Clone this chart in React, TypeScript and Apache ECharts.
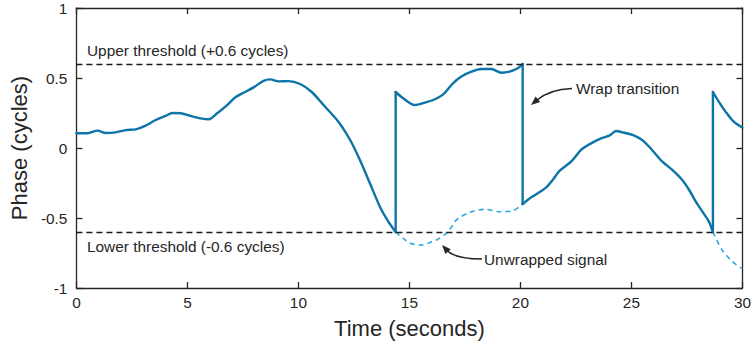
import { useEffect, useRef } from "react";
import * as echarts from "echarts";

// Wrapped phase (solid line)
const wrappedTime = [
  0, 0.5, 0.95, 1.32, 1.77, 2.22, 2.67, 3.12, 3.57, 4.02, 4.32, 4.69, 5.14, 5.59, 5.96,
  6.34, 6.71, 7.16, 7.53, 7.98, 8.43, 8.73, 9.1, 9.55, 10.08, 10.6, 11.13, 11.8, 12.33,
  12.77, 13.22, 13.67, 14.05, 14.38, 14.38, 14.72, 15.24, 15.69, 16.07, 16.52, 16.96,
  17.34, 17.79, 18.24, 18.69, 19.14, 19.51, 19.88, 20.1, 20.1, 20.41, 20.78, 21.16,
  21.45, 21.76, 22.28, 22.73, 23.1, 23.63, 24.0, 24.31, 24.6, 25.05, 25.45, 25.8, 26.32,
  26.84, 27.29, 27.6, 27.9, 28.2, 28.49, 28.67, 28.67, 28.94, 29.24, 29.61, 30,
];
const wrappedPhase = [
  0.105, 0.105, 0.124, 0.107, 0.112, 0.128, 0.133, 0.16, 0.2, 0.229, 0.25, 0.248, 0.229,
  0.212, 0.205, 0.248, 0.295, 0.362, 0.395, 0.433, 0.48, 0.49, 0.476, 0.478, 0.457, 0.4,
  0.307, 0.188, 0.057, -0.086, -0.252, -0.419, -0.526, -0.6, 0.4, 0.355, 0.307, 0.324,
  0.343, 0.383, 0.462, 0.51, 0.545, 0.564, 0.564, 0.538, 0.545, 0.569, 0.6, -0.4, -0.36,
  -0.324, -0.281, -0.229, -0.164, -0.098, -0.014, 0.026, 0.069, 0.088, 0.121, 0.112,
  0.093, 0.06, 0.009, -0.086, -0.157, -0.229, -0.3, -0.383, -0.455, -0.526, -0.6, 0.4,
  0.33, 0.26, 0.188, 0.145,
];

// Unwrapped signal (dashed), two visible stretches
const unwrappedTimeA = [14.38, 14.72, 15.03, 15.55, 16.0, 16.22, 16.74, 17.12, 17.71, 18.39, 19.06, 19.66, 20.1];
const unwrappedPhaseA = [-0.6, -0.645, -0.68, -0.693, -0.67, -0.657, -0.598, -0.514, -0.46, -0.438, -0.455, -0.448, -0.4];
const unwrappedTimeB = [28.67, 29.09, 29.54, 29.95];
const unwrappedPhaseB = [-0.6, -0.73, -0.81, -0.86];

const thresholds = [0.6, -0.6];
const xTicks = { min: 0, max: 30, interval: 5 };
const yTicks = { min: -1, max: 1, interval: 0.5 };

const FONT = "Liberation Sans, Arial, Helvetica, sans-serif";
const INK = "#262626";
const SOLID = "#0c74a6";
const DASHED = "#2aa8e0";

function arrow(x0: number, y0: number, cx: number, cy: number, x1: number, y1: number) {
  const dx = x1 - cx;
  const dy = y1 - cy;
  const len = Math.hypot(dx, dy);
  const ux = dx / len;
  const uy = dy / len;
  const hl = 9;
  const hw = 3.6;
  const bx = x1 - ux * hl;
  const by = y1 - uy * hl;
  const nx = -uy;
  const ny = ux;
  return [
    {
      type: "bezierCurve",
      shape: { x1: x0, y1: y0, cpx1: cx, cpy1: cy, x2: bx + ux * 2, y2: by + uy * 2 },
      style: { stroke: INK, lineWidth: 1.5, fill: "none" },
      silent: true,
    },
    {
      type: "polygon",
      shape: { points: [[x1, y1], [bx + nx * hw, by + ny * hw], [bx - nx * hw, by - ny * hw]] },
      style: { fill: INK },
      silent: true,
    },
  ];
}

function annotation(text: string, x: number, y: number) {
  return {
    type: "text",
    x,
    y,
    silent: true,
    style: {
      text,
      fill: INK,
      font: `15.4px ${FONT}`,
      fontSize: 15.4,
      fontFamily: FONT,
      textAlign: "left",
      textVerticalAlign: "middle",
    },
  };
}

const axisLineStyle = { color: INK, width: 1.3 };

// Split the wrapped trace into smooth stretches and the vertical wrap jumps.
function splitWrapped() {
  const stretches: number[][][] = [];
  const jumps: number[][][] = [];
  let cur: number[][] = [];
  for (let i = 0; i < wrappedTime.length; i++) {
    const p = [wrappedTime[i], wrappedPhase[i]];
    if (i > 0 && wrappedTime[i] === wrappedTime[i - 1]) {
      jumps.push([[wrappedTime[i - 1], wrappedPhase[i - 1]], p]);
      stretches.push(cur);
      cur = [];
    }
    cur.push(p);
  }
  stretches.push(cur);
  return { stretches, jumps };
}

export default function App() {
  const ref = useRef<HTMLDivElement>(null);
  useEffect(() => {
    if (!ref.current) return;
    const chart = echarts.init(ref.current, null, { renderer: "svg" });
    const pairs = (t: number[], v: number[]) => t.map((x, i) => [x, v[i]]);
    const { stretches, jumps } = splitWrapped();
    const solidStyle = { color: SOLID, width: 2.4, join: "round", cap: "round" };
    chart.setOption({
      animation: false,
      backgroundColor: "#ffffff",
      textStyle: { fontFamily: FONT },
      grid: { left: 75, right: 10, top: 8, bottom: 59, containLabel: false },
      xAxis: [
        {
          type: "value",
          ...xTicks,
          position: "bottom",
          axisLine: { show: true, onZero: false, lineStyle: axisLineStyle },
          axisTick: { show: true, inside: true, length: 6, lineStyle: axisLineStyle },
          axisLabel: { color: INK, fontSize: 15.4, margin: 7, fontFamily: FONT },
          splitLine: { show: false },
          name: "Time (seconds)",
          nameLocation: "middle",
          nameGap: 29,
          nameTextStyle: { color: INK, fontSize: 22, fontFamily: FONT, verticalAlign: "top" },
        },
        {
          type: "value",
          ...xTicks,
          position: "top",
          axisLine: { show: true, onZero: false, lineStyle: axisLineStyle },
          axisTick: { show: true, inside: true, length: 6, lineStyle: axisLineStyle },
          axisLabel: { show: false },
          splitLine: { show: false },
        },
      ],
      yAxis: [
        {
          type: "value",
          ...yTicks,
          position: "left",
          axisLine: { show: true, onZero: false, lineStyle: axisLineStyle },
          axisTick: { show: true, inside: true, length: 6, lineStyle: axisLineStyle },
          axisLabel: { color: INK, fontSize: 15.4, margin: 9, fontFamily: FONT },
          splitLine: { show: false },
          name: "Phase (cycles)",
          nameLocation: "middle",
          nameGap: 44,
          nameTextStyle: { color: INK, fontSize: 22, fontFamily: FONT },
        },
        {
          type: "value",
          ...yTicks,
          position: "right",
          axisLine: { show: true, onZero: false, lineStyle: axisLineStyle },
          axisTick: { show: true, inside: true, length: 6, lineStyle: axisLineStyle },
          axisLabel: { show: false },
          splitLine: { show: false },
        },
      ],
      series: [
        {
          type: "line",
          name: "Unwrapped A",
          data: pairs(unwrappedTimeA, unwrappedPhaseA),
          showSymbol: false,
          symbol: "none",
          smooth: 0.3,
          lineStyle: { color: DASHED, width: 1.6, type: [5, 4] },
          markLine: {
            silent: true,
            symbol: ["none", "none"],
            label: { show: false },
            lineStyle: { color: "#1a1a1a", width: 1.3, type: [6, 4] },
            data: thresholds.map((v) => ({ yAxis: v })),
          },
          z: 2,
        },
        {
          type: "line",
          name: "Unwrapped B",
          data: pairs(unwrappedTimeB, unwrappedPhaseB),
          showSymbol: false,
          symbol: "none",
          smooth: 0.3,
          lineStyle: { color: DASHED, width: 1.6, type: [5, 4] },
          z: 2,
        },
        ...stretches.map((d, i) => ({
          type: "line",
          name: `Wrapped ${i + 1}`,
          data: d,
          showSymbol: false,
          symbol: "none",
          smooth: 0.3,
          lineStyle: solidStyle,
          z: 3,
        })),
        ...jumps.map((d, i) => ({
          type: "line",
          name: `Wrap jump ${i + 1}`,
          data: d,
          showSymbol: false,
          symbol: "none",
          lineStyle: solidStyle,
          z: 3,
        })),
      ],
      graphic: [
        annotation("Upper threshold (+0.6 cycles)", 87, 50),
        annotation("Lower threshold (-0.6 cycles)", 87, 246.5),
        annotation("Wrap transition", 576, 88.5),
        annotation("Unwrapped signal", 484, 259.5),
        ...arrow(572, 88.5, 550, 89, 531, 105),
        ...arrow(482, 259, 455, 259, 442, 245),
      ],
    });
    return () => chart.dispose();
  }, []);
  return (
    <div
      ref={ref}
      style={{ position: "absolute", left: 0, top: 0, width: 754, height: 347, background: "#fff" }}
    />
  );
}
